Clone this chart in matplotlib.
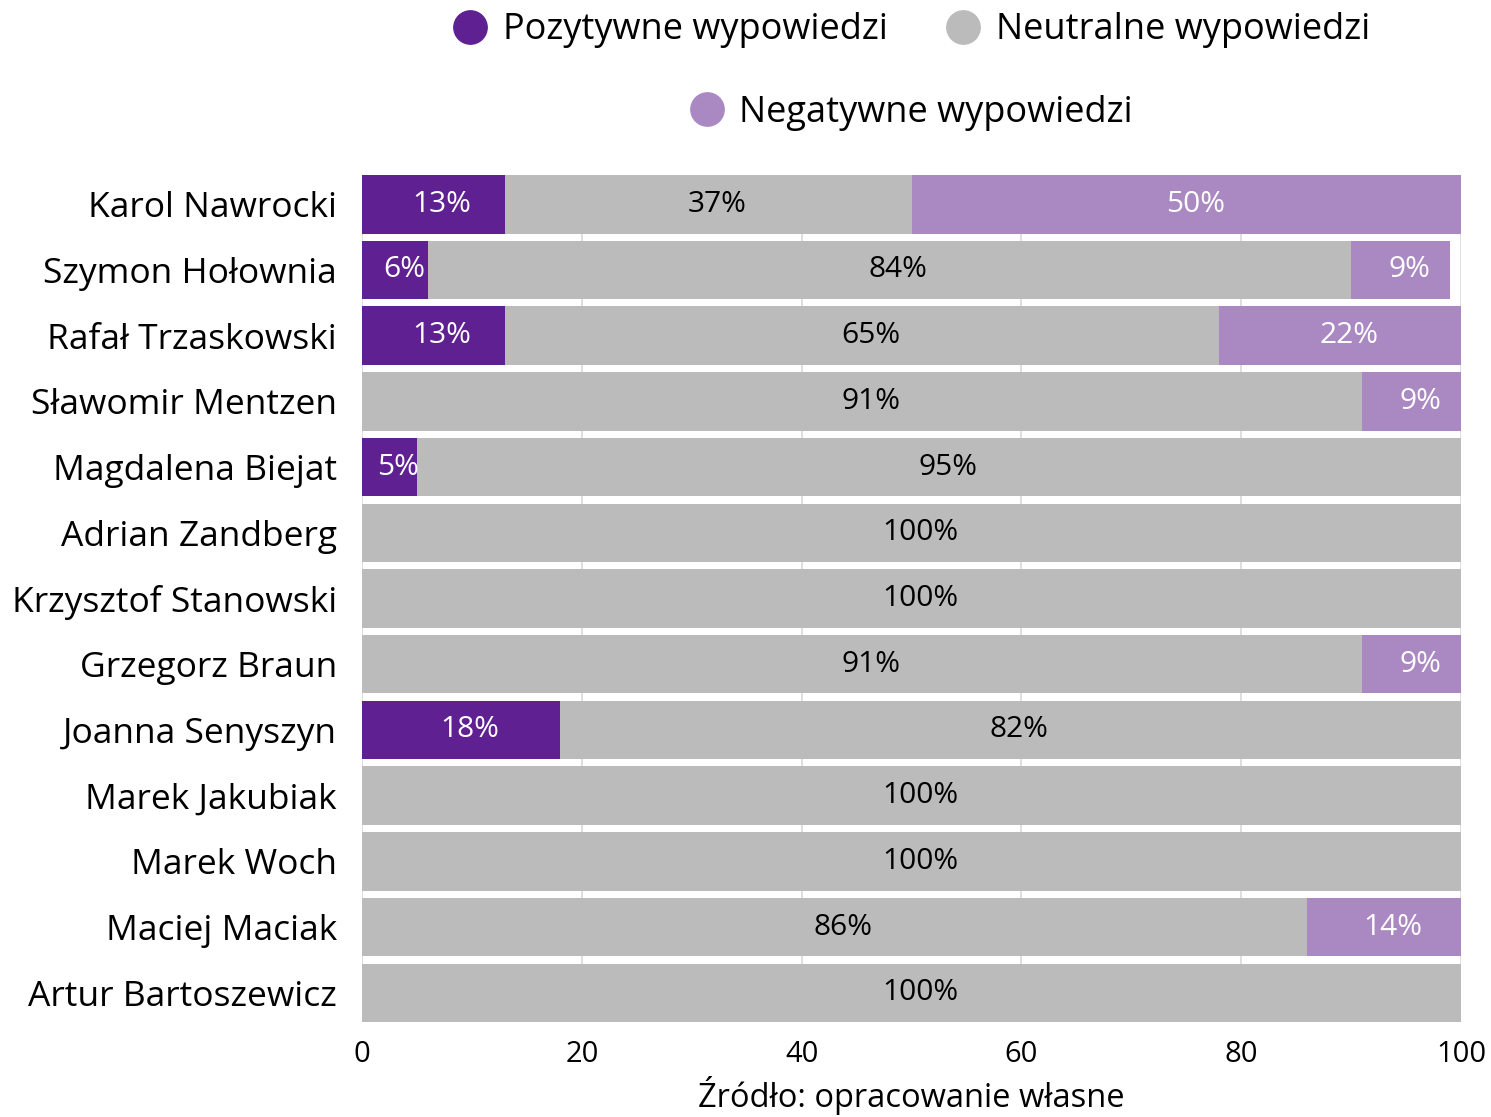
import matplotlib
matplotlib.use('Agg')
import matplotlib.pyplot as plt
from matplotlib.lines import Line2D
import numpy as np

plt.rcParams['font.family'] = ['Open Sans', 'DejaVu Sans']

# data (percent of statements)
names = ['Karol Nawrocki', 'Szymon Hołownia', 'Rafał Trzaskowski', 'Sławomir Mentzen',
         'Magdalena Biejat', 'Adrian Zandberg', 'Krzysztof Stanowski', 'Grzegorz Braun',
         'Joanna Senyszyn', 'Marek Jakubiak', 'Marek Woch', 'Maciej Maciak',
         'Artur Bartoszewicz']
positive = [13, 6, 13, 0, 5, 0, 0, 0, 18, 0, 0, 0, 0]
neutral = [37, 84, 65, 91, 95, 100, 100, 91, 82, 100, 100, 86, 100]
negative = [50, 9, 22, 9, 0, 0, 0, 9, 0, 0, 0, 14, 0]

series_names = ['Pozytywne wypowiedzi', 'Neutralne wypowiedzi', 'Negatywne wypowiedzi']
colors = ['#5f2191', '#bbbbbb', '#aa89c3']
text_colors = ['white', 'black', 'white']

fig = plt.figure(figsize=(14.91, 11.17), dpi=100)
ax = fig.add_axes([0.2428, 0.085, 0.7371, 0.7583])

y = np.arange(len(names))
left = np.zeros(len(names))
for vals, col, tcol in zip([positive, neutral, negative], colors, text_colors):
    vals = np.array(vals, dtype=float)
    ax.barh(y, vals, left=left, height=0.89, color=col, zorder=2)
    for yi, (l, v) in enumerate(zip(left, vals)):
        if v > 0:
            ax.text(l + v / 2 + 0.8, yi, f'{int(v)}%', ha='center', va='center',
                    color=tcol, fontsize=21.5, zorder=3)
    left += vals

ax.set_xlim(0, 100)
ax.set_ylim(len(names) - 1 + 0.445, -0.445)
ax.set_xticks([0, 20, 40, 60, 80, 100])
ax.set_yticks(y)
ax.set_yticklabels(names)
ax.tick_params(axis='y', length=0, labelsize=25.5, pad=18)
ax.tick_params(axis='x', length=0, labelsize=21, pad=13)
ax.grid(axis='x', color='#d9d9d9', linewidth=1.2, zorder=0)
for s in ax.spines.values():
    s.set_visible(False)
ax.set_xlabel('Źródło: opracowanie własne', fontsize=23.5, labelpad=5)

handles = [Line2D([], [], marker='o', linestyle='none', markersize=24,
                  markerfacecolor=c, markeredgecolor=c) for c in colors]
fig.legend(handles[:2], series_names[:2], loc='center', ncol=2,
           bbox_to_anchor=(0.611, 0.973), frameon=False, fontsize=26,
           handlelength=1.0, handletextpad=0.4, columnspacing=1.6)
fig.legend(handles[2:], series_names[2:], loc='center',
           bbox_to_anchor=(0.611, 0.899), frameon=False, fontsize=26,
           handlelength=1.0, handletextpad=0.4)

fig.savefig('out.png', dpi=100)
